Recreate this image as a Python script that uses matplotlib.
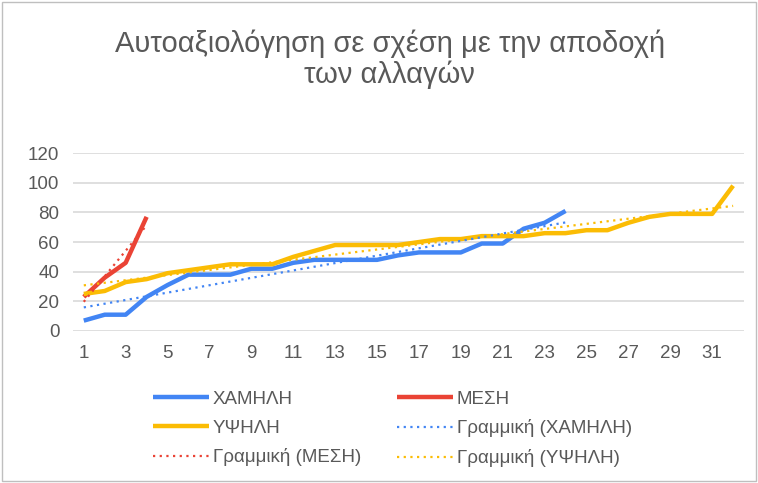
import matplotlib.pyplot as plt
import numpy as np
from matplotlib.patches import Rectangle

plt.rcParams['font.family'] = ['Liberation Sans', 'DejaVu Sans']

# values
low = [7, 11, 11, 23, 31, 38, 38, 38, 42, 42, 46, 48, 48, 48, 48, 51, 53, 53,
       53, 59, 59, 69, 73, 81]
mid = [23, 36, 46, 77]
high = [25, 27, 33, 35, 39, 41, 43, 45, 45, 45, 50, 54, 58, 58, 58, 58, 60, 62,
        62, 64, 64, 64, 66, 66, 68, 68, 73, 77, 79, 79, 79, 98]
names = ['ΧΑΜΗΛΗ', 'ΜΕΣΗ', 'ΥΨΗΛΗ']
colors = ['#4285F4', '#EA4335', '#FBBC04']
xticks = list(range(1, 33, 2))
yticks = [0, 20, 40, 60, 80, 100, 120]

fig = plt.figure(figsize=(7.58, 4.83), dpi=100)
ax = fig.add_axes([0.0967, 0.3147, 0.8843, 0.3683])

handles = {}
for name, vals, c in zip(names, [low, mid, high], colors):
    x = np.arange(1, len(vals) + 1)
    line, = ax.plot(x, vals, color=c, lw=3.2, solid_capstyle='butt', zorder=3)
    handles[name] = line

# linear trendlines fitted to each series
for name, vals, c in zip(names, [low, mid, high], colors):
    x = np.arange(1, len(vals) + 1)
    k, b = np.polyfit(x, vals, 1)
    tl, = ax.plot(x, k * x + b, color=c, lw=1.6, ls=(0, (1, 2)), zorder=4)
    handles['Γραμμική (' + name + ')'] = tl

ax.set_xlim(0.5, 32.5)
ax.set_ylim(0, 120)
ax.set_xticks(xticks)
ax.set_yticks(yticks)
ax.tick_params(length=0, labelsize=13.5, labelcolor='#595959', pad=10)
ax.grid(axis='y', color='#d9d9d9', lw=1.2)
ax.set_axisbelow(True)
for s in ax.spines.values():
    s.set_visible(False)

fig.text(0.514, 0.878, 'Αυτοαξιολόγηση σε σχέση με την αποδοχή\nτων αλλαγών',
         ha='center', va='center', fontsize=21, color='#595959', linespacing=1.1)

# two single-column legends, placed like the reference
cols = [['ΧΑΜΗΛΗ', 'ΥΨΗΛΗ', 'Γραμμική (ΜΕΣΗ)'],
        ['ΜΕΣΗ', 'Γραμμική (ΧΑΜΗΛΗ)', 'Γραμμική (ΥΨΗΛΗ)']]
for keys, x0 in zip(cols, [153 / 758, 397 / 758]):
    leg = fig.legend([handles[k] for k in keys], keys, loc='upper left',
                     bbox_to_anchor=(x0, 0.191), frameon=False, fontsize=13.5,
                     handlelength=3.0, handletextpad=0.2, labelspacing=0.62,
                     borderpad=0, borderaxespad=0)
    for t in leg.get_texts():
        t.set_color('#595959')

fig.patches.append(Rectangle((0.002, 0.004), 0.996, 0.992, transform=fig.transFigure,
                             fill=False, edgecolor='#bfbfbf', lw=1))

fig.savefig('out.png', dpi=100)
